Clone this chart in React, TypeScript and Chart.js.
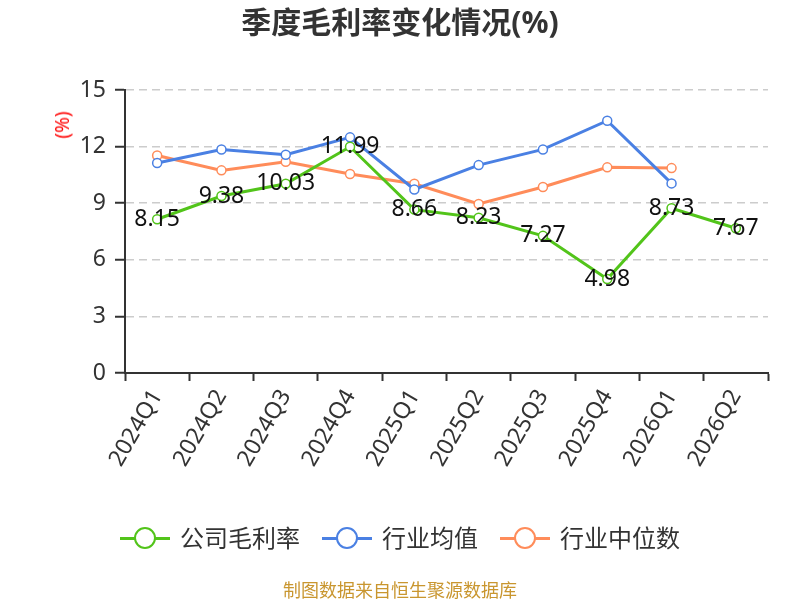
import { useEffect, useRef } from 'react';
import { Chart, registerables } from 'chart.js';

Chart.register(...registerables);

// Data
const quarters = ['2024Q1', '2024Q2', '2024Q3', '2024Q4', '2025Q1', '2025Q2', '2025Q3', '2025Q4', '2026Q1', '2026Q2'];
const companyMargin = [8.15, 9.38, 10.03, 11.99, 8.66, 8.23, 7.27, 4.98, 8.73, 7.67];
const industryAvg = [11.13, 11.85, 11.57, 12.49, 9.73, 11.02, 11.85, 13.37, 10.05, null];
const industryMedian = [11.53, 10.74, 11.2, 10.55, 10.03, 8.96, 9.86, 10.9, 10.86, null];
const seriesNames = ['公司毛利率', '行业均值', '行业中位数'];
const seriesColors = ['#52c41a', '#4a80e3', '#ff8c5a'];
const yTicks = { min: 0, max: 15, step: 3 };

const FONT = '"Noto Sans", "Noto Sans CJK SC", sans-serif';

// draws the value labels of the company series
const valueLabels = {
  id: 'valueLabels',
  afterDatasetsDraw(chart: Chart) {
    const { ctx } = chart;
    const meta = chart.getDatasetMeta(0);
    ctx.save();
    ctx.font = `23px ${FONT}`;
    ctx.fillStyle = '#111';
    ctx.textAlign = 'center';
    ctx.textBaseline = 'middle';
    meta.data.forEach((pt, i) => {
      const v = companyMargin[i];
      if (v == null) return;
      ctx.fillText(v.toFixed(2), pt.x, pt.y);
    });
    ctx.restore();
  },
};

const App = () => {
  const chartRef = useRef<HTMLCanvasElement>(null);
  const chartInstance = useRef<Chart | null>(null);

  useEffect(() => {
    if (!chartRef.current) return;
    if (chartInstance.current) chartInstance.current.destroy();

    const series = [companyMargin, industryAvg, industryMedian];
    chartInstance.current = new Chart(chartRef.current, {
      type: 'line',
      data: {
        labels: quarters,
        datasets: series.map((d, i) => ({
          label: seriesNames[i],
          data: d,
          borderColor: seriesColors[i],
          backgroundColor: seriesColors[i],
          borderWidth: 3,
          pointRadius: 4.5,
          pointBorderWidth: 1.5,
          pointBackgroundColor: '#fff',
          pointBorderColor: seriesColors[i],
          tension: 0,
          spanGaps: false,
        })),
      },
      options: {
        responsive: false,
        animation: false,
        layout: { padding: { top: 90, left: 0, right: 32, bottom: 0 } },
        plugins: {
          legend: { display: false },
          title: { display: false },
          tooltip: { enabled: false },
        },
        scales: {
          x: {
            type: 'category',
            offset: true,
            afterFit: (scale: any) => {
              scale.height = 227;
            },
            grid: {
              display: true,
              drawOnChartArea: false,
              drawTicks: true,
              offset: true,
              tickLength: 8,
              tickColor: '#333',
              tickWidth: 2,
            },
            border: { color: '#333', width: 2 },
            ticks: {
              autoSkip: false,
              maxRotation: 60,
              minRotation: 60,
              padding: 4,
              color: '#333',
              font: { size: 23, family: FONT },
            },
          },
          y: {
            min: yTicks.min,
            max: yTicks.max,
            afterFit: (scale: any) => {
              scale.width = 125;
            },
            grid: {
              color: '#cccccc',
              lineWidth: 1.5,
              tickLength: 10,
              tickColor: '#333',
              tickWidth: 2,
              tickBorderDash: [],
            },
            border: { color: '#333', width: 2, dash: [8, 5] },
            ticks: {
              stepSize: yTicks.step,
              padding: 9,
              color: '#333',
              font: { size: 23, family: FONT },
            },
          },
        },
      },
      plugins: [valueLabels],
    });

    return () => {
      if (chartInstance.current) {
        chartInstance.current.destroy();
        chartInstance.current = null;
      }
    };
  }, []);

  return (
    <div style={{ position: 'fixed', left: 0, top: 0, width: 800, height: 600, background: '#fff', fontFamily: FONT }}>
      <canvas ref={chartRef} width={800} height={600} style={{ position: 'absolute', left: 0, top: 0 }} />
      <div
        style={{
          position: 'absolute',
          top: 3,
          left: 0,
          width: 800,
          textAlign: 'center',
          fontSize: 30,
          fontWeight: 'bold',
          color: '#333',
          lineHeight: '38px',
        }}
      >
        季度毛利率变化情况(%)
      </div>
      <div
        style={{
          position: 'absolute',
          left: 62,
          top: 125,
          transform: 'translate(-50%, -50%) rotate(-90deg)',
          color: '#ff0000',
          fontSize: 19,
          fontWeight: 'normal',
          whiteSpace: 'nowrap',
        }}
      >
        (%)
      </div>
      <div
        style={{
          position: 'absolute',
          top: 520,
          left: 0,
          width: 800,
          height: 36,
          display: 'flex',
          justifyContent: 'center',
          alignItems: 'center',
          gap: 22,
        }}
      >
        {seriesNames.map((name, i) => (
          <div key={name} style={{ display: 'flex', alignItems: 'center' }}>
            <div style={{ position: 'relative', width: 50, height: 24 }}>
              <div style={{ position: 'absolute', left: 0, top: 10.5, width: 50, height: 3, background: seriesColors[i] }} />
              <div
                style={{
                  position: 'absolute',
                  left: 14,
                  top: 1,
                  width: 18,
                  height: 18,
                  borderRadius: '50%',
                  border: `2px solid ${seriesColors[i]}`,
                  background: '#fff',
                }}
              />
            </div>
            <span style={{ marginLeft: 10, fontSize: 24, color: '#333', lineHeight: '36px' }}>{name}</span>
          </div>
        ))}
      </div>
      <div
        style={{
          position: 'absolute',
          top: 578,
          left: 0,
          width: 800,
          textAlign: 'center',
          fontSize: 18,
          color: '#c9962f',
          lineHeight: '24px',
        }}
      >
        制图数据来自恒生聚源数据库
      </div>
    </div>
  );
};

export default App;
